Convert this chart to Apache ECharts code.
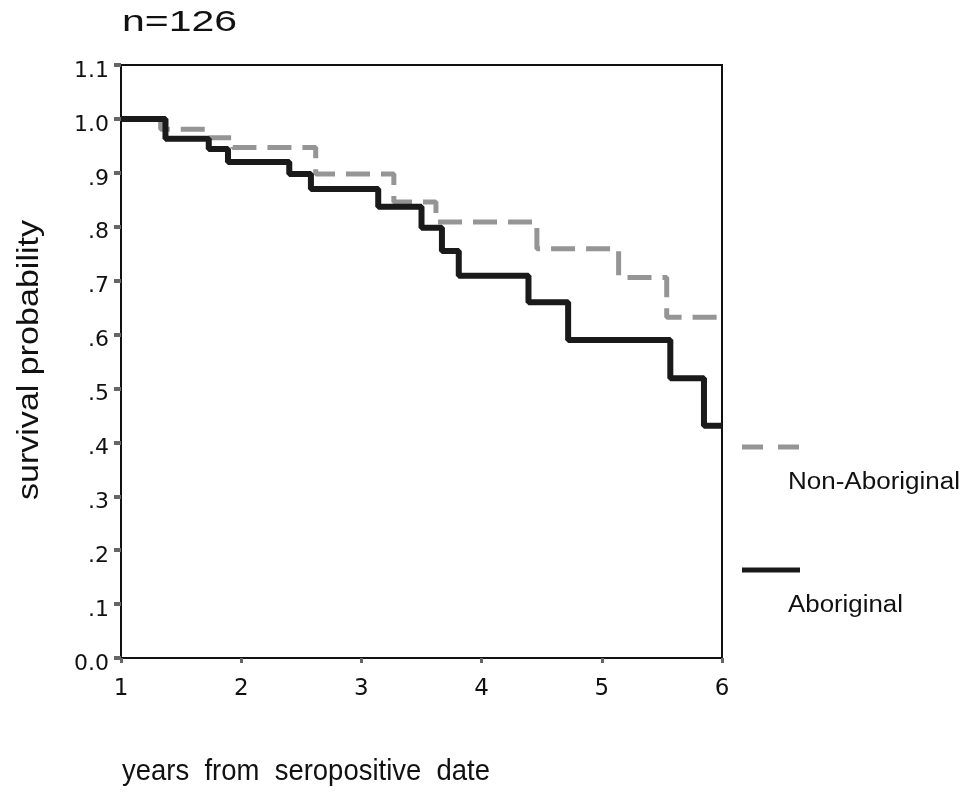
<!DOCTYPE html>
<html>
<head>
<meta charset="utf-8">
<script src="https://cdn.jsdelivr.net/npm/echarts@6/dist/echarts.min.js"></script>
<style>
  html, body { margin: 0; padding: 0; background: #fff; }
  #chart { width: 968px; height: 792px; }
</style>
</head>
<body>
<div id="chart"></div>
<script>
// ---- data ----
const seriesNames = ['Non-Aboriginal', 'Aboriginal'];
// Kaplan-Meier steps: value holds from time[i] until time[i+1]
const nonAborigTimes  = [1.00, 1.33, 1.73, 1.93, 2.62, 3.27, 3.62, 4.46, 5.14, 5.54, 6.00];
const nonAborigValues = [1.000, 0.981, 0.965, 0.947, 0.898, 0.846, 0.809, 0.759, 0.706, 0.632, 0.632];
const aborigTimes  = [1.00, 1.37, 1.73, 1.89, 2.40, 2.58, 3.14, 3.50, 3.67, 3.81, 4.39, 4.72, 5.57, 5.85, 6.00];
const aborigValues = [1.000, 0.963, 0.944, 0.920, 0.898, 0.870, 0.837, 0.798, 0.755, 0.709, 0.660, 0.590, 0.519, 0.431, 0.431];
const xTickLabels = ['1', '2', '3', '4', '5', '6'];
const yTickLabels = ['0.0', '.1', '.2', '.3', '.4', '.5', '.6', '.7', '.8', '.9', '1.0', '1.1'];
const titleText = 'n=126';
const xAxisTitle = 'years  from  seropositive  date';
const yAxisTitle = 'survival probability';

// ---- helpers ----
const mctx = document.createElement('canvas').getContext('2d');
function fit(text, size, family, target) {
  mctx.font = size + 'px ' + family;
  return target / mctx.measureText(text).width;
}
const FAM = '"Liberation Sans", Arial, sans-serif';
const pairs = (xs, ys) => xs.map((x, i) => [x, ys[i]]);

const chart = echarts.init(document.getElementById('chart'), null, { renderer: 'canvas' });

const option = {
  animation: false,
  backgroundColor: '#ffffff',
  grid: {
    left: 121, right: 246, top: 65, bottom: 134,
    show: true, borderColor: '#111', borderWidth: 2, backgroundColor: 'transparent'
  },
  xAxis: {
    type: 'value', min: 1, max: 6, interval: 1,
    axisLine: { show: true, lineStyle: { color: '#111', width: 2 } },
    axisTick: { show: true, length: 5, lineStyle: { color: '#666', width: 3 } },
    splitLine: { show: false },
    axisLabel: {
      margin: 20, color: '#111', fontSize: 23, fontFamily: '"DejaVu Sans", sans-serif',
      formatter: v => xTickLabels[Math.round(v - 1)]
    }
  },
  yAxis: {
    type: 'value', min: 0, max: 1.1, interval: 0.1,
    axisLine: { show: true, lineStyle: { color: '#111', width: 2 } },
    axisTick: { show: true, length: 7, lineStyle: { color: '#666', width: 4 } },
    splitLine: { show: false },
    axisLabel: {
      margin: 12, color: '#111', fontSize: 22, fontFamily: '"DejaVu Sans", sans-serif',
      verticalAlign: 'top', lineHeight: 12,
      formatter: v => yTickLabels[Math.round(v * 10)]
    }
  },
  series: [
    {
      name: seriesNames[0], type: 'line', step: 'end', showSymbol: false, symbol: 'none',
      data: pairs(nonAborigTimes, nonAborigValues),
      lineStyle: { color: '#959595', width: 5, type: [24, 11] },
      z: 2
    },
    {
      name: seriesNames[1], type: 'line', step: 'end', showSymbol: false, symbol: 'none',
      data: pairs(aborigTimes, aborigValues),
      lineStyle: { color: '#1a1a1a', width: 6 },
      z: 3
    }
  ],
  graphic: [
    {
      type: 'text', x: 122, y: 23,
      scaleX: fit(titleText, 30, FAM, 115),
      style: { text: titleText, fontSize: 30, fontFamily: FAM, fill: '#111',
               textAlign: 'left', textVerticalAlign: 'middle', verticalAlign: 'middle' }
    },
    {
      type: 'text', x: 30, y: 360, rotation: Math.PI / 2,
      scaleX: fit(yAxisTitle, 29, FAM, 280),
      style: { text: yAxisTitle, fontSize: 29, fontFamily: FAM, fill: '#111',
               textAlign: 'center', textVerticalAlign: 'middle', verticalAlign: 'middle' }
    },
    {
      type: 'text', x: 122, y: 772,
      scaleX: fit(xAxisTitle, 26, FAM, 368), scaleY: 1.12,
      style: { text: xAxisTitle, fontSize: 26, fontFamily: FAM, fill: '#111',
               textAlign: 'left', textVerticalAlign: 'middle', verticalAlign: 'middle' }
    },
    // legend
    {
      type: 'line', shape: { x1: 742, y1: 447, x2: 800, y2: 447 },
      style: { stroke: '#959595', lineWidth: 5, lineDash: [21, 15] }
    },
    {
      type: 'text', x: 788, y: 483,
      scaleX: fit(seriesNames[0], 23, FAM, 172),
      style: { text: seriesNames[0], fontSize: 23, fontFamily: FAM, fill: '#111',
               textAlign: 'left', textVerticalAlign: 'middle', verticalAlign: 'middle' }
    },
    {
      type: 'line', shape: { x1: 742, y1: 570, x2: 800, y2: 570 },
      style: { stroke: '#1a1a1a', lineWidth: 5 }
    },
    {
      type: 'text', x: 788, y: 606,
      scaleX: fit(seriesNames[1], 23, FAM, 115),
      style: { text: seriesNames[1], fontSize: 23, fontFamily: FAM, fill: '#111',
               textAlign: 'left', textVerticalAlign: 'middle', verticalAlign: 'middle' }
    }
  ]
};
chart.setOption(option);
</script>
</body>
</html>
